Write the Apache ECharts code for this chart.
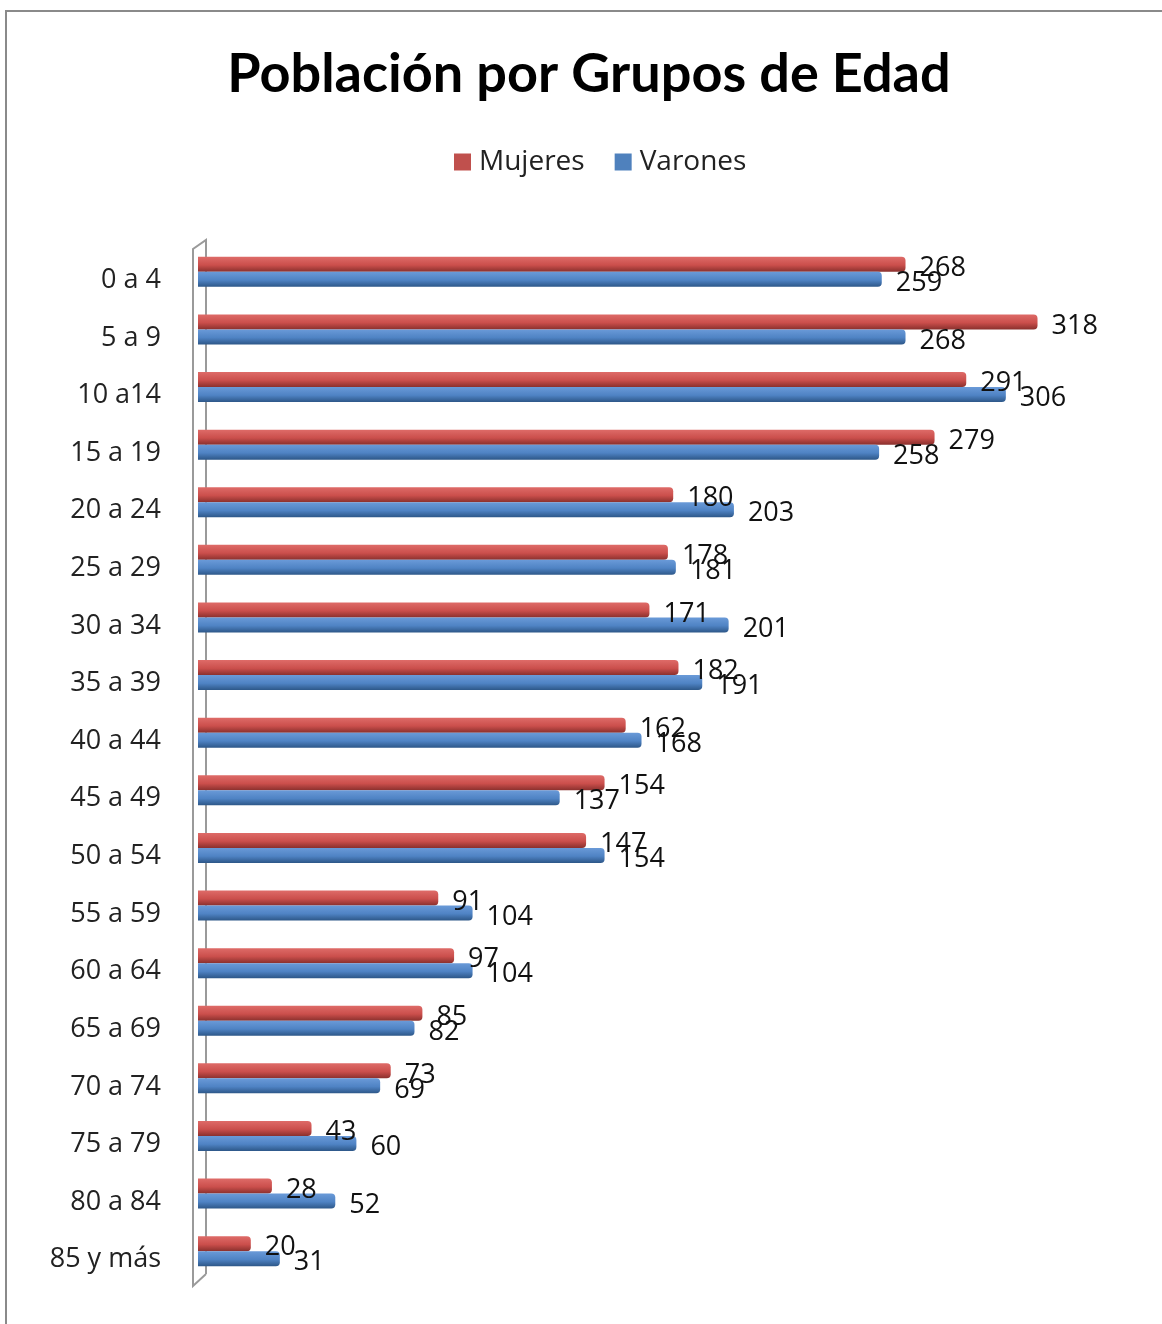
<!DOCTYPE html>
<html>
<head>
<meta charset="utf-8">
<title>Población por Grupos de Edad</title>
<script src="https://cdn.jsdelivr.net/npm/echarts@6/dist/echarts.min.js"></script>
<style>
  html, body { margin: 0; padding: 0; background: #fff; }
  #chart { width: 1162px; height: 1324px; }
</style>
</head>
<body>
<div id="chart"></div>
<script>
// grupos de edad, de arriba abajo
var grupos = ["0 a 4", "5 a 9", "10 a14", "15 a 19", "20 a 24", "25 a 29", "30 a 34", "35 a 39",
  "40 a 44", "45 a 49", "50 a 54", "55 a 59", "60 a 64", "65 a 69", "70 a 74", "75 a 79",
  "80 a 84", "85 y más"];
var mujeres = [268, 318, 291, 279, 180, 178, 171, 182, 162, 154, 147, 91, 97, 85, 73, 43, 28, 20];
var varones = [259, 268, 306, 258, 203, 181, 201, 191, 168, 137, 154, 104, 104, 82, 69, 60, 52, 31];

var fuente = "Open Sans";

function degradado(claro, medio, oscuro) {
  return new echarts.graphic.LinearGradient(0, 0, 0, 1, [
    { offset: 0, color: claro },
    { offset: 0.55, color: medio },
    { offset: 1, color: oscuro }
  ]);
}

var etiqueta = {
  show: true,
  position: "right",
  distance: 14,
  offset: [0, 4],
  color: "#111",
  fontFamily: fuente,
  fontSize: 27
};

var myChart = echarts.init(document.getElementById("chart"));
var option = {
  backgroundColor: "#fff",
  animation: false,
  title: {
    text: "Población por Grupos de Edad",
    left: 584,
    textAlign: "center",
    top: 43,
    textStyle: { fontFamily: "Lato", fontWeight: "bold", fontSize: 54, color: "#000" }
  },
  legend: {
    top: 143,
    left: 449,
    itemWidth: 17,
    itemHeight: 17,
    itemGap: 30,
    icon: "rect",
    textStyle: { fontFamily: fuente, fontSize: 28, color: "#222", padding: [0, 0, 0, 3] },
    data: [
      { name: "Mujeres", itemStyle: { color: "#C0504D" } },
      { name: "Varones", itemStyle: { color: "#4F81BD" } }
    ]
  },
  graphic: [
    {
      // marco del gráfico
      type: "rect",
      shape: { x: 6, y: 11, width: 1400, height: 1600 },
      style: { fill: "none", stroke: "#8a8a8a", lineWidth: 2 },
      silent: true
    },
    {
      // pared 3D del eje
      type: "polyline",
      z: 0,
      shape: { points: [[206, 1274], [206, 240], [193, 249], [193, 1286], [206, 1274]] },
      style: { fill: "none", stroke: "#9a9a9a", lineWidth: 2 },
      silent: true
    }
  ],
  grid: { left: 198, right: 40, top: 243, bottom: 44 },
  xAxis: {
    type: "value",
    min: 0,
    max: 350,
    show: false,
    splitLine: { show: false }
  },
  yAxis: {
    type: "category",
    data: grupos,
    inverse: true,
    axisLine: { show: false },
    axisTick: { show: false },
    axisLabel: {
      margin: 37,
      formatter: "{g|{value}}",
      rich: {
        g: { padding: [17, 0, 0, 0], fontFamily: fuente, fontSize: 27, color: "#222" }
      }
    }
  },
  series: [
    {
      name: "Mujeres",
      type: "bar",
      data: mujeres,
      barWidth: 15,
      barGap: "0%",
      itemStyle: {
        color: degradado("#DE6B68", "#CB4F4C", "#8A302D"),
        borderRadius: [0, 4, 4, 0]
      },
      label: etiqueta
    },
    {
      name: "Varones",
      type: "bar",
      data: varones,
      barWidth: 15,
      itemStyle: {
        color: degradado("#6A9AD8", "#4F83C4", "#2D5788"),
        borderRadius: [0, 4, 4, 0]
      },
      label: etiqueta
    }
  ]
};
myChart.setOption(option);
</script>
</body>
</html>
